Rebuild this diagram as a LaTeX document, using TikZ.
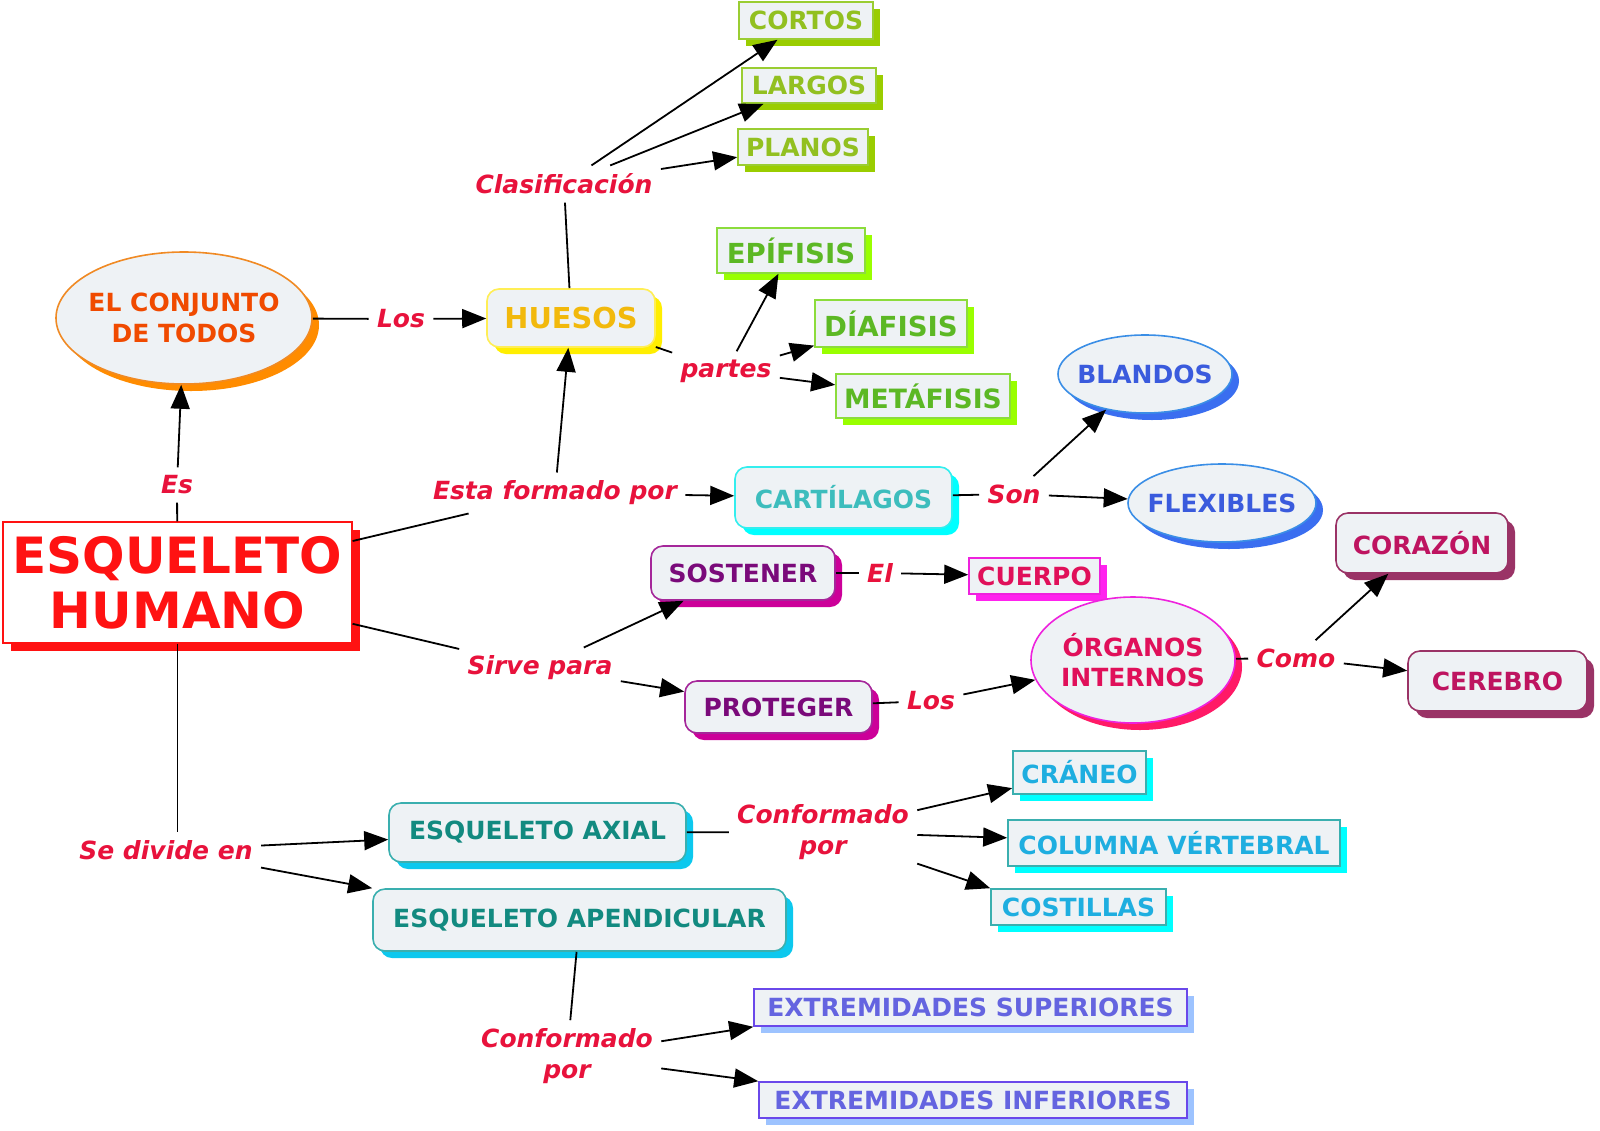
\documentclass[tikz,border=0pt]{standalone}
\usepackage{fontspec}
\setmainfont{DejaVu Sans}
\usetikzlibrary{arrows.meta,shapes.geometric,shadows}

\definecolor{boxfill}{HTML}{EEF2F5}
\definecolor{linkred}{HTML}{E8123C}
\definecolor{titlered}{HTML}{FF1212}
\definecolor{conjborder}{HTML}{F08A24}
\definecolor{conjtext}{HTML}{F04A00}
\definecolor{conjshadow}{HTML}{FF8C00}
\definecolor{huesoborder}{HTML}{FFEE55}
\definecolor{huesotext}{HTML}{F2B90C}
\definecolor{huesoshadow}{HTML}{FFEE00}
\definecolor{tipoborder}{HTML}{9ACD32}
\definecolor{tipotext}{HTML}{92C020}
\definecolor{tiposhadow}{HTML}{9ACD00}
\definecolor{parteborder}{HTML}{8CDC3C}
\definecolor{partetext}{HTML}{5CB824}
\definecolor{parteshadow}{HTML}{99FF00}
\definecolor{cartborder}{HTML}{33EEEE}
\definecolor{carttext}{HTML}{3DBDBD}
\definecolor{cartshadow}{HTML}{00FFFF}
\definecolor{blandoborder}{HTML}{3A8EE6}
\definecolor{blandotext}{HTML}{3A5BDD}
\definecolor{blandoshadow}{HTML}{3A6EF0}
\definecolor{funcborder}{HTML}{A5279A}
\definecolor{functext}{HTML}{7A0A7A}
\definecolor{funcshadow}{HTML}{CC0099}
\definecolor{cuerpoborder}{HTML}{EE22DD}
\definecolor{cuerpotext}{HTML}{E0105A}
\definecolor{cuerposhadow}{HTML}{FF22EE}
\definecolor{organoshadow}{HTML}{FF1A66}
\definecolor{corazonborder}{HTML}{9A3366}
\definecolor{corazontext}{HTML}{BE1460}
\definecolor{axialborder}{HTML}{3AAFAF}
\definecolor{axialtext}{HTML}{128A80}
\definecolor{axialshadow}{HTML}{0CC8EE}
\definecolor{piezatext}{HTML}{1EAEE0}
\definecolor{extremborder}{HTML}{6A48EA}
\definecolor{extremtext}{HTML}{6464E0}
\definecolor{extremshadow}{HTML}{9DC3FF}

\begin{document}
\begin{tikzpicture}[
  x=0.5pt, y=-0.5pt,
  font=\bfseries\fontsize{12.5}{15.3}\selectfont,
  arrow/.style={-{Triangle[length=12pt,width=9.5pt]}, draw=black, line width=0.9pt},
  joinline/.style={draw=black, line width=0.9pt},
  linkword/.style={text=linkred, font=\bfseries\itshape\fontsize{12.5}{15.3}\selectfont,
    inner sep=4pt, align=center},
  tone/.style n args={3}{draw=#1, text=#2,
    drop shadow={shadow xshift=3.5pt, shadow yshift=-3.5pt, fill=#3, opacity=1}},
  roundbox/.style={fill=boxfill, line width=0.8pt, rounded corners=6pt, inner sep=0pt, align=center},
  flatbox/.style={fill=boxfill, line width=0.8pt, inner sep=0pt, align=center},
  ovalbox/.style={ellipse, fill=boxfill, line width=0.8pt, inner xsep=-7pt, inner ysep=0pt, align=center}
]
\path[use as bounding box, fill=white] (0,0) rectangle (1600,1130);

% 1. Central concept
\node[flatbox, fill=white, draw=titlered, line width=0.6pt, text=titlered,
  minimum width=174.5pt, minimum height=60.5pt,
  drop shadow={shadow xshift=4pt, shadow yshift=-4pt, fill=titlered, opacity=1},
  font=\bfseries\fontsize{25}{27.5}\selectfont] (esqueleto) at (177.5,582.5) {ESQUELETO\\HUMANO};

% 2. Upper branch: huesos
\node[ovalbox, tone={conjborder}{conjtext}{conjshadow}, minimum width=128pt, minimum height=66pt]
  (conjunto) at (184,318) {EL CONJUNTO\\DE TODOS};
\node[roundbox, tone={huesoborder}{huesotext}{huesoshadow}, minimum width=84pt, minimum height=29pt,
  font=\bfseries\fontsize{14.4}{17}\selectfont] (huesos) at (571,318) {HUESOS};

\node[flatbox, tone={tipoborder}{tipotext}{tiposhadow}, minimum width=67pt, minimum height=18.5pt]
  (cortos) at (806,20.5) {CORTOS};
\node[flatbox, tone={tipoborder}{tipotext}{tiposhadow}, minimum width=67pt, minimum height=17.5pt]
  (largos) at (809,85.5) {LARGOS};
\node[flatbox, tone={tipoborder}{tipotext}{tiposhadow}, minimum width=65pt, minimum height=18pt]
  (planos) at (803,147) {PLANOS};

\node[flatbox, tone={parteborder}{partetext}{parteshadow}, minimum width=74pt, minimum height=22.5pt,
  font=\bfseries\fontsize{13.8}{16}\selectfont] (epifisis) at (791,250.5) {EPÍFISIS};
\node[flatbox, tone={parteborder}{partetext}{parteshadow}, minimum width=76pt, minimum height=23.5pt,
  font=\bfseries\fontsize{13.8}{16}\selectfont] (diafisis) at (891,323.5) {DÍAFISIS};
\node[flatbox, tone={parteborder}{partetext}{parteshadow}, minimum width=87pt, minimum height=22pt,
  font=\bfseries\fontsize{13.3}{16}\selectfont] (metafisis) at (923,396) {METÁFISIS};

% 3. Middle branch: cartilagos and funciones
\node[roundbox, tone={cartborder}{carttext}{cartshadow}, minimum width=108.5pt, minimum height=30.5pt]
  (cartilagos) at (843.5,497.5) {CARTÍLAGOS};
\node[ovalbox, tone={blandoborder}{blandotext}{blandoshadow}, minimum width=87pt, minimum height=39pt]
  (blandos) at (1145,374) {BLANDOS};
\node[ovalbox, tone={blandoborder}{blandotext}{blandoshadow}, minimum width=94pt, minimum height=39pt]
  (flexibles) at (1222,503) {FLEXIBLES};

\node[roundbox, tone={funcborder}{functext}{funcshadow}, minimum width=92pt, minimum height=27pt]
  (sostener) at (743,573) {SOSTENER};
\node[flatbox, tone={cuerpoborder}{cuerpotext}{cuerposhadow}, minimum width=65.5pt, minimum height=18pt]
  (cuerpo) at (1034.5,576) {CUERPO};
\node[roundbox, tone={funcborder}{functext}{funcshadow}, minimum width=93.5pt, minimum height=26pt]
  (proteger) at (778.5,707) {PROTEGER};
\node[ovalbox, tone={cuerpoborder}{cuerpotext}{organoshadow}, minimum width=102pt, minimum height=63pt]
  (organos) at (1133,660) {ÓRGANOS\\INTERNOS};
\node[roundbox, tone={corazonborder}{corazontext}{corazonborder}, minimum width=86pt, minimum height=30pt]
  (corazon) at (1422,543) {CORAZÓN};
\node[roundbox, tone={corazonborder}{corazontext}{corazonborder}, minimum width=89.5pt, minimum height=30pt]
  (cerebro) at (1497.5,681) {CEREBRO};

% 4. Lower branch: divisiones
\node[roundbox, tone={axialborder}{axialtext}{axialshadow}, minimum width=148.5pt, minimum height=29.5pt]
  (axial) at (537.5,832.5) {ESQUELETO AXIAL};
\node[roundbox, tone={axialborder}{axialtext}{axialshadow}, minimum width=206.5pt, minimum height=31pt]
  (apendicular) at (579.5,920) {ESQUELETO APENDICULAR};

\node[flatbox, tone={axialborder}{piezatext}{cartshadow}, minimum width=66.5pt, minimum height=21.5pt]
  (craneo) at (1079.5,772.5) {CRÁNEO};
\node[flatbox, tone={axialborder}{piezatext}{cartshadow}, minimum width=166pt, minimum height=23pt]
  (columna) at (1174,843) {COLUMNA VÉRTEBRAL};
\node[flatbox, tone={axialborder}{piezatext}{cartshadow}, minimum width=87.5pt, minimum height=18pt]
  (costillas) at (1078.5,907) {COSTILLAS};

\node[flatbox, tone={extremborder}{extremtext}{extremshadow}, minimum width=216.5pt, minimum height=18.5pt]
  (superiores) at (970.5,1007.5) {EXTREMIDADES SUPERIORES};
\node[flatbox, tone={extremborder}{extremtext}{extremshadow}, minimum width=214pt, minimum height=18pt]
  (inferiores) at (973,1100) {EXTREMIDADES INFERIORES};

% Linking words
\node[linkword] (es) at (177,485) {Es};
\node[linkword] (losA) at (401,319) {Los};
\node[linkword] (clasif) at (564,184) {Clasificación};
\node[linkword] (partes) at (726,371) {partes};
\node[linkword] (esta) at (555,493) {Esta formado por};
\node[linkword] (son) at (1014,494) {Son};
\node[linkword] (sirve) at (540,668) {Sirve para};
\node[linkword] (el) at (880,573) {El};
\node[linkword] (losB) at (931,701) {Los};
\node[linkword] (como) at (1296,658) {Como};
\node[linkword] (divide) at (166,850) {Se divide en};
\node[linkword] (confaxial) at (823,832) {Conformado\\por};
\node[linkword] (confapend) at (567,1056) {Conformado\\por};

% Connectors
\draw[joinline] (esqueleto) -- (es);
\draw[arrow] (es) -- (conjunto);
\draw[joinline] (conjunto) -- (losA);
\draw[arrow] (losA) -- (huesos);

\draw[joinline] (huesos) -- (clasif);
\draw[arrow] (clasif) -- (cortos);
\draw[arrow] (clasif) -- (largos);
\draw[arrow] (clasif) -- (planos);

\draw[joinline] (huesos) -- (partes);
\draw[arrow] (partes) -- (epifisis);
\draw[arrow] (partes) -- (diafisis);
\draw[arrow] (partes) -- (metafisis);

\draw[joinline] (esqueleto) -- (esta);
\draw[arrow] (esta) -- (huesos);
\draw[arrow] (esta) -- (cartilagos);
\draw[joinline] (cartilagos) -- (son);
\draw[arrow] (son) -- (blandos);
\draw[arrow] (son) -- (flexibles);

\draw[joinline] (esqueleto) -- (sirve);
\draw[arrow] (sirve) -- (sostener);
\draw[arrow] (sirve) -- (proteger);
\draw[joinline] (sostener) -- (el);
\draw[arrow] (el) -- (cuerpo);
\draw[joinline] (proteger) -- (losB);
\draw[arrow] (losB) -- (organos);
\draw[joinline] (organos) -- (como);
\draw[arrow] (como) -- (corazon);
\draw[arrow] (como) -- (cerebro);

\draw[joinline] (esqueleto.south) -- (esqueleto.south |- divide.north);
\draw[arrow] (divide) -- (axial);
\draw[arrow] (divide) -- (apendicular.north west);
\draw[joinline] (axial) -- (confaxial);
\draw[arrow] (confaxial) -- (craneo);
\draw[arrow] (confaxial) -- (columna);
\draw[arrow] (confaxial) -- (costillas.north west);
\draw[joinline] (apendicular) -- (confapend);
\draw[arrow] (confapend) -- (superiores.south west);
\draw[arrow] (confapend) -- (inferiores.north west);

\end{tikzpicture}
\end{document}
